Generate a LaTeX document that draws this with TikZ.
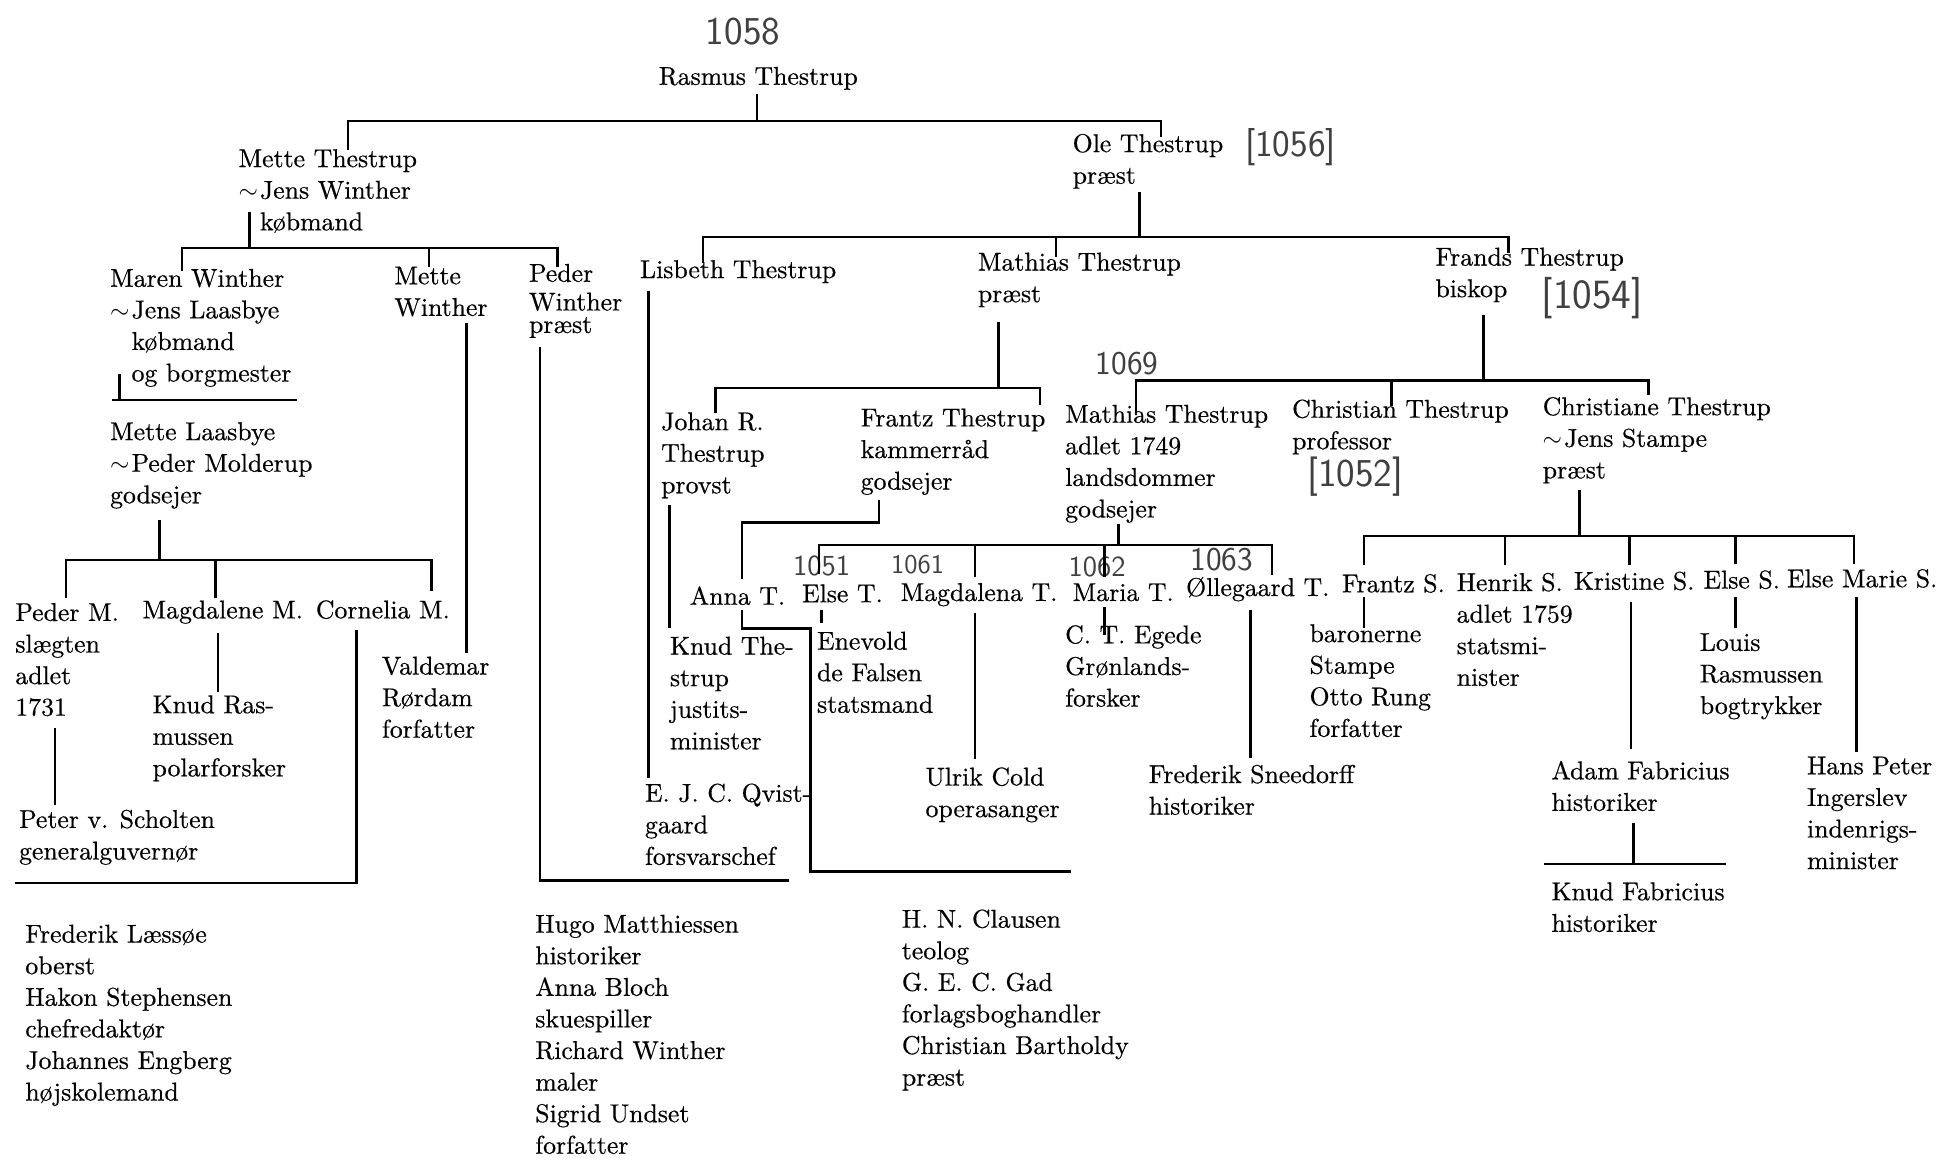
\documentclass[tikz,border=0pt]{standalone}
\usepackage{fontspec}
\setmainfont{lmroman10-regular.otf}[FakeBold=0.5]
\newcommand{\mysim}{$\sim$\kern1pt}
\newcommand{\myind}{\hphantom{$\sim$\kern1pt}}
\newcommand{\mylines}[1]{\begin{tabular}[t]{@{}l@{}}#1\end{tabular}}
\begin{document}
\begin{tikzpicture}[x=0.6pt,y=-0.6pt,
  txt/.style={anchor=base west,inner sep=0pt,font=\fontsize{12.4}{15.2}\selectfont},
  hand/.style={inner sep=0pt,text=black!75,font=\sffamily\fontsize{#1}{#1}\selectfont},
  ln/.style={line width=1.2pt}]
\useasboundingbox[fill=white] (0,0) rectangle (1568,937);

% ---------- text ----------
\node[hand=19] (h1058) at (596,25) {1058};
\node[txt] (rasmus) at (528,68) {Rasmus Thestrup};
\node[txt] (metteT) at (191,134) {\mylines{Mette Thestrup\\\mysim Jens Winther\\\myind købmand}};
\node[txt] (ole) at (860,122) {\mylines{Ole Thestrup\\præst}};
\node[hand=18] (h1056) at (1035,118) {[1056]};
\node[txt] (maren) at (88,230) {\mylines{Maren Winther\\\mysim Jens Laasbye\\\myind købmand\\\myind og borgmester}};
\node[txt] (metteW) at (316,228) {\mylines{Mette\\Winther}};
\node[txt] (pederW) at (424,226) {\mylines{Peder\\[-1.4pt]Winther\\[-4.4pt]præst}};
\node[txt] (lisbeth) at (513,223) {Lisbeth Thestrup};
\node[txt] (mathiasP) at (784,217) {\mylines{Mathias Thestrup\\præst}};
\node[txt] (frands) at (1151,213) {\mylines{Frands Thestrup\\biskop}};
\node[hand=20] (h1054) at (1277,239) {[1054]};
\node[txt] (metteL) at (88,353) {\mylines{Mette Laasbye\\\mysim Peder Molderup\\godsejer}};
\node[hand=16] (h1069) at (904,292) {1069};
\node[txt] (johan) at (530,345) {\mylines{Johan R.\\Thestrup\\provst}};
\node[txt] (frantzT) at (690,342) {\mylines{Frantz Thestrup\\kammerråd\\godsejer}};
\node[txt] (mathiasA) at (854,339) {\mylines{Mathias Thestrup\\adlet 1749\\landsdommer\\godsejer}};
\node[txt] (christian) at (1036,335) {\mylines{Christian Thestrup\\professor}};
\node[hand=19] (h1052) at (1087,382) {[1052]};
\node[txt] (christiane) at (1237,333) {\mylines{Christiane Thestrup\\\mysim Jens Stampe\\præst}};

\node[txt] (pederM) at (12,498) {\mylines{Peder M.\\slægten\\adlet\\1731}};
\node[txt] (magdaleneM) at (114,496) {Magdalene M.};
\node[txt] (corneliaM) at (253,496) {Cornelia M.};
\node[txt] (valdemar) at (306,541) {\mylines{Valdemar\\Rørdam\\forfatter}};
\node[txt] (knudR) at (122,572) {\mylines{Knud Ras-\\mussen\\polarforsker}};
\node[txt] (peterS) at (15,664) {\mylines{Peter v. Scholten\\generalguvernør}};
\node[txt] (laessoe) at (20,756) {\mylines{Frederik Læssøe\\oberst\\Hakon Stephensen\\chefredaktør\\Johannes Engberg\\højskolemand}};

\node[txt] (annaT) at (553,485) {Anna T.};
\node[txt] (elseT) at (643,483) {Else T.};
\node[txt] (magdalenaT) at (722,482) {Magdalena T.};
\node[txt] (mariaT) at (860,482) {Maria T.};
\node[txt] (ollegaard) at (951,478) {Øllegaard T.};
\node[hand=14] (h1051) at (659,454) {1051};
\node[hand=13] (h1061) at (736,453) {1061};
\node[hand=14] (h1062) at (880,455) {1062};
\node[hand=16] (h1063) at (980,449) {1063};

\node[txt] (frantzS) at (1076,475) {Frantz S.};
\node[txt] (henrikS) at (1168,474) {\mylines{Henrik S.\\adlet 1759\\statsmi-\\nister}};
\node[txt] (kristineS) at (1262,473) {Kristine S.};
\node[txt] (elseS) at (1366,472) {Else S.};
\node[txt] (elseMarie) at (1433,471) {Else Marie S.};

\node[txt] (knudT) at (537,525) {\mylines{Knud The-\\strup\\justits-\\minister}};
\node[txt] (qvist) at (517,643) {\mylines{E. J. C. Qvist-\\gaard\\forsvarschef}};
\node[txt] (enevold) at (655,521) {\mylines{Enevold\\de Falsen\\statsmand}};
\node[txt] (ulrik) at (742,630) {\mylines{Ulrik Cold\\operasanger}};
\node[txt] (egede) at (854,516) {\mylines{C. T. Egede\\Grønlands-\\forsker}};
\node[txt] (sneedorff) at (921,628) {\mylines{Frederik Sneedorff\\historiker}};
\node[txt] (baron) at (1050,515) {\mylines{baronerne\\Stampe\\Otto Rung\\forfatter}};
\node[txt] (louis) at (1363,522) {\mylines{Louis\\Rasmussen\\bogtrykker}};
\node[txt] (adam) at (1244,625) {\mylines{Adam Fabricius\\historiker}};
\node[txt] (knudF) at (1244,722) {\mylines{Knud Fabricius\\historiker}};
\node[txt] (ingerslev) at (1449,621) {\mylines{Hans Peter\\Ingerslev\\indenrigs-\\minister}};
\node[txt] (hugo) at (429,748) {\mylines{Hugo Matthiessen\\historiker\\Anna Bloch\\skuespiller\\Richard Winther\\maler\\Sigrid Undset\\forfatter}};
\node[txt] (clausen) at (723,744) {\mylines{H. N. Clausen\\teolog\\G. E. C. Gad\\forlagsboghandler\\Christian Bartholdy\\præst}};

% ---------- connectors ----------
\coordinate (r0) at (607,75); \coordinate (r1) at (607,97);
\coordinate (bA) at (279,120); \coordinate (bB) at (931,110);
\draw[ln] (r0)--(r1);
\draw[ln] (bA)--(bA|-r1)--(bB|-r1)--(bB);

\coordinate (a0) at (200,170); \coordinate (a1) at (200,199);
\coordinate (aC) at (146,217); \coordinate (aD) at (344,214); \coordinate (aE) at (447,214);
\draw[ln] (a0)--(a1);
\draw[ln] (aC)--(aC|-a1)--(aE|-a1)--(aE);
\draw[ln] (aD|-a1)--(aD);

\coordinate (c0) at (96,300); \coordinate (c1) at (96,321);
\coordinate (c2) at (90,321); \coordinate (c3) at (238,321);
\draw[ln] (c0)--(c1); \draw[ln] (c2)--(c3);

\coordinate (d0) at (374,259); \coordinate (d1) at (374,524);
\draw[ln] (d0)--(d1);

\coordinate (e0) at (433,278); \coordinate (e1) at (433,706); \coordinate (e2) at (633,706);
\draw[ln] (e0)--(e1)--(e2);

\coordinate (i0) at (128,417); \coordinate (i1) at (128,449);
\coordinate (iP) at (53,480); \coordinate (iM) at (173,480); \coordinate (iC) at (346,474);
\draw[ln] (i0)--(i1);
\draw[ln] (iP)--(iP|-i1)--(iC|-i1)--(iC);
\draw[ln] (iM|-i1)--(iM);

\coordinate (p0) at (44,584); \coordinate (p1) at (44,646);
\draw[ln] (p0)--(p1);
\coordinate (m0) at (175,508); \coordinate (m1) at (175,555);
\draw[ln] (m0)--(m1);
\coordinate (k0) at (286,505); \coordinate (k1) at (286,708); \coordinate (k2) at (12,708);
\draw[ln] (k0)--(k1)--(k2);

\coordinate (b0) at (914,154); \coordinate (b1) at (914,190);
\coordinate (bF) at (564,211); \coordinate (bG) at (847,206); \coordinate (bH) at (1210,203);
\draw[ln] (b0)--(b1);
\draw[ln] (bF)--(bF|-b1)--(bH|-b1)--(bH);
\draw[ln] (bG|-b1)--(bG);

\coordinate (f0) at (520,233); \coordinate (f1) at (520,624);
\draw[ln] (f0)--(f1);

\coordinate (g0) at (801,258); \coordinate (g1) at (801,311);
\coordinate (gJ) at (574,331); \coordinate (gK) at (834,325);
\draw[ln] (g0)--(g1);
\draw[ln] (gJ)--(gJ|-g1)--(gK|-g1)--(gK);

\coordinate (hh0) at (1190,253); \coordinate (hh1) at (1190,305);
\coordinate (hL) at (911,331); \coordinate (hM) at (1116,326); \coordinate (hN) at (1322,317);
\draw[ln] (hh0)--(hh1);
\draw[ln] (hL)--(hL|-hh1)--(hN|-hh1)--(hN);
\draw[ln] (hM|-hh1)--(hM);

\coordinate (j0) at (537,405); \coordinate (j1) at (537,504);
\draw[ln] (j0)--(j1);

\coordinate (q0) at (705,401); \coordinate (q1) at (705,419); \coordinate (q2) at (595,464);
\draw[ln] (q0)--(q1)--(q2|-q1)--(q2);

\coordinate (n0) at (595,489); \coordinate (n1) at (595,504); \coordinate (n2) at (650,699); \coordinate (n3) at (859,699);
\draw[ln] (n0)--(n1)--(n2|-n1)--(n2)--(n3);

\coordinate (l0) at (897,420); \coordinate (l1) at (897,437);
\coordinate (lE) at (657,460); \coordinate (lM) at (782,463); \coordinate (lR) at (886,463); \coordinate (lO) at (1020,461);
\draw[ln] (l0)--(l1);
\draw[ln] (lE)--(lE|-l1)--(lO|-l1)--(lO);
\draw[ln] (lM|-l1)--(lM);
\draw[ln] (lR|-l1)--(lR);

\coordinate (s0) at (659,489); \coordinate (s1) at (659,500);
\draw[ln] (s0)--(s1);
\coordinate (t0) at (782,492); \coordinate (t1) at (782,609);
\draw[ln] (t0)--(t1);
\coordinate (u0) at (886,487); \coordinate (u1) at (886,509);
\draw[ln] (u0)--(u1);
\coordinate (v0) at (1003,489); \coordinate (v1) at (1003,608);
\draw[ln] (v0)--(v1);

\coordinate (w0) at (1267,393); \coordinate (w1) at (1267,430);
\coordinate (wF) at (1094,453); \coordinate (wH) at (1207,453); \coordinate (wK) at (1307,453);
\coordinate (wE) at (1392,452); \coordinate (wM) at (1487,452);
\draw[ln] (w0)--(w1);
\draw[ln] (wF)--(wF|-w1)--(wM|-w1)--(wM);
\draw[ln] (wH|-w1)--(wH);
\draw[ln] (wK|-w1)--(wK);
\draw[ln] (wE|-w1)--(wE);

\coordinate (x0) at (1094,479); \coordinate (x1) at (1094,504);
\draw[ln] (x0)--(x1);
\coordinate (y0) at (1308,483); \coordinate (y1) at (1308,601);
\draw[ln] (y0)--(y1);
\coordinate (z0) at (1310,660); \coordinate (z1) at (1310,693);
\coordinate (z2) at (1238,693); \coordinate (z3) at (1384,693);
\draw[ln] (z0)--(z1); \draw[ln] (z2)--(z3);
\coordinate (o0) at (1392,479); \coordinate (o1) at (1392,504);
\draw[ln] (o0)--(o1);
\coordinate (em0) at (1489,479); \coordinate (em1) at (1489,603);
\draw[ln] (em0)--(em1);
\end{tikzpicture}
\end{document}
